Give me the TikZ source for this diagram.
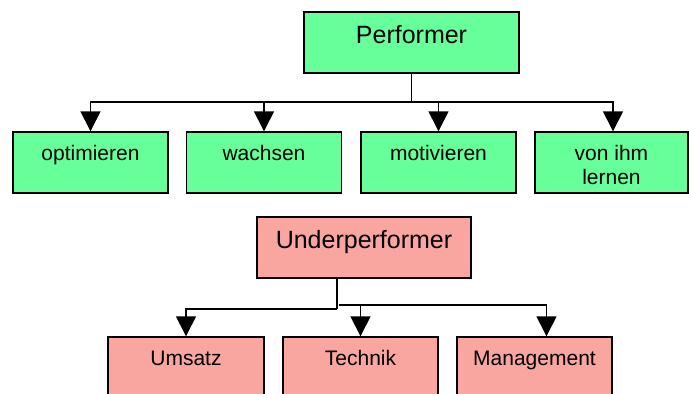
\documentclass[tikz,border=0pt]{standalone}
\usepackage{fontspec}
\setmainfont{Liberation Sans}
\usetikzlibrary{arrows.meta}
\definecolor{perfgreen}{RGB}{102,255,153}
\definecolor{underred}{RGB}{250,166,160}

\begin{document}
\begin{tikzpicture}[x=1pt, y=-1pt,
  box/.style={draw, line width=1.4pt, inner sep=0pt, minimum width=155pt, minimum height=61pt,
    text height=28pt, text depth=33pt, font=\fontsize{21}{24}\selectfont},
  bigbox/.style={box, text height=31pt, text depth=30pt, font=\fontsize{25}{29}\selectfont},
  good/.style={fill=perfgreen},
  bad/.style={fill=underred},
  link/.style={line width=1.4pt, -{Triangle[width=20pt,length=20pt]}}]
  \useasboundingbox (0,0) rectangle (689,394);
  \clip (0,0) rectangle (689,394);

  \node[bigbox, good, minimum width=215pt] (perf) at (411.5,42.5) {Performer};
  \node[box, good] (opt) at (90.5,162.5) {optimieren};
  \node[box, good] (wachs) at (264,162.5) {wachsen};
  \node[box, good] (motiv) at (438.5,162.5) {motivieren};
  \node[box, good, minimum width=153pt, align=center, text height=52pt, text depth=9pt] (vonihm) at (611.5,162.5) {von ihm\\lernen};

  \node[bigbox, bad, minimum width=214pt] (under) at (364,247.5) {Underperformer};
  \node[box, bad, minimum width=156pt] (umsatz) at (186,367.5) {Umsatz};
  \node[box, bad] (tech) at (360.5,367.5) {Technik};
  \node[box, bad] (mgmt) at (534.5,367.5) {Management};

  \coordinate (pbar) at (411.5,102);
  \draw[line width=1.4pt] (perf.south) -- (pbar);
  \draw[link] (pbar) -| (opt.north);
  \draw[link] (pbar) -| (wachs.north);
  \draw[link] (pbar) -| (motiv.north);
  \draw[link] (pbar) -| ([xshift=1.5pt]vonihm.north);

  \coordinate (uleft) at (337,309);
  \coordinate (uright) at (339,305);
  \draw[line width=2.6pt] (under.south -| uleft) -- (uleft);
  \draw[link] (uleft) -| (umsatz.north);
  \draw[link] (uright) -| ([xshift=12pt]mgmt.north);
  \draw[link] (uright -| tech.north) -- (tech.north);
\end{tikzpicture}
\end{document}
